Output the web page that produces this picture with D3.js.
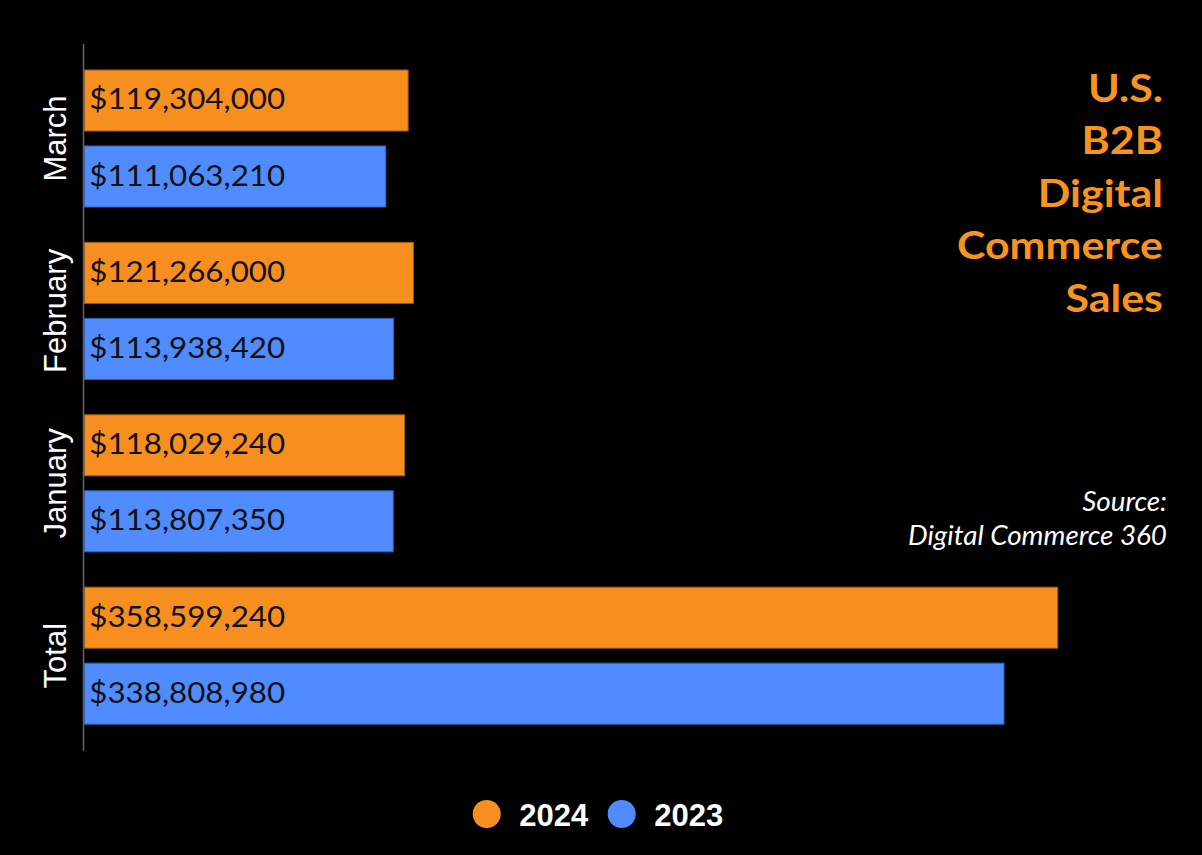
<!DOCTYPE html>
<html>
<head>
<meta charset="utf-8">
<script src="https://cdn.jsdelivr.net/npm/d3@7"></script>
<style>
  html, body { margin: 0; padding: 0; background: #000; }
  svg { display: block; }
</style>
</head>
<body>
<svg id="chart" width="1202" height="855"></svg>
<script>
const categories = ["March", "February", "January", "Total"];
const seriesNames = ["2024", "2023"];
const values2024 = [119304000, 121266000, 118029240, 358599240];
const values2023 = [111063210, 113938420, 113807350, 338808980];
const seriesColors = ["#F68F20", "#508CFF"];
const seriesStrokes = ["#9a5a14", "#2f5fb5"];
const titleLines = ["U.S.", "B2B", "Digital", "Commerce", "Sales"];
const sourceLines = ["Source:", "Digital Commerce 360"];

const svg = d3.select("#chart");
svg.append("rect").attr("width", 1202).attr("height", 855).attr("fill", "#000");

const x = d3.scaleLinear()
  .domain([0, d3.max(values2024.concat(values2023))])
  .range([84.3, 1057.7]);

const y = d3.scaleBand()
  .domain(categories)
  .range([52.3, 741.9])
  .paddingInner(0.205)
  .paddingOuter(0.1025);

const ySub = d3.scaleBand()
  .domain(seriesNames)
  .range([0, y.bandwidth()])
  .paddingInner(0.197);

const fmt = d3.format("$,");

const rows = categories.map((c, i) => ({
  cat: c,
  vals: [
    { s: "2024", v: values2024[i], k: 0 },
    { s: "2023", v: values2023[i], k: 1 }
  ]
}));

const g = svg.append("g");
const groups = g.selectAll("g.grp").data(rows).join("g")
  .attr("class", "grp")
  .attr("transform", d => `translate(0,${y(d.cat)})`);

groups.selectAll("rect").data(d => d.vals).join("rect")
  .attr("x", x(0))
  .attr("y", d => ySub(d.s))
  .attr("width", d => x(d.v) - x(0))
  .attr("height", ySub.bandwidth())
  .attr("fill", d => seriesColors[d.k])
  .attr("stroke", d => seriesStrokes[d.k])
  .attr("stroke-width", 1);

groups.selectAll("text.val").data(d => d.vals).join("text")
  .attr("class", "val")
  .attr("transform", d => `translate(${x(0) + 5},${ySub(d.s) + ySub.bandwidth() / 2 + 9}) scale(1.08,1)`)
  .attr("font-family", "Lato, sans-serif")
  .attr("font-size", 29)
  .attr("fill", "#111")
  .text(d => fmt(d.v));

// y axis line
g.append("line")
  .attr("x1", 83.5).attr("x2", 83.5)
  .attr("y1", 44).attr("y2", 751)
  .attr("stroke", "#666").attr("stroke-width", 1.5);

// category labels
g.selectAll("text.cat").data(categories).join("text")
  .attr("class", "cat")
  .attr("transform", d => `translate(65.5,${y(d) + y.bandwidth() / 2}) rotate(-90)`)
  .attr("text-anchor", "middle")
  .attr("font-family", "'Liberation Sans', Arial, sans-serif")
  .attr("font-size", 31)
  .attr("fill", "#fff")
  .text(d => d);

// title
svg.append("g").selectAll("text").data(titleLines).join("text")
  .attr("transform", (d, i) => `translate(1163,${101.7 + i * 52.5}) scale(1.13,1)`)
  .attr("text-anchor", "end")
  .attr("font-family", "Lato, sans-serif")
  .attr("font-weight", "bold")
  .attr("font-size", 38)
  .attr("fill", "#F7931E")
  .text(d => d);

// source
svg.append("g").selectAll("text").data(sourceLines).join("text")
  .attr("transform", (d, i) => `translate(1167,${510.7 + i * 34.3}) scale(1.05,1)`)
  .attr("text-anchor", "end")
  .attr("font-family", "Lato, sans-serif")
  .attr("font-style", "italic")
  .attr("font-size", 26.5)
  .attr("fill", "#fff")
  .text(d => d);

// legend
const legendX = [486.7, 621.7];
const leg = svg.append("g").selectAll("g").data(seriesNames).join("g")
  .attr("transform", (d, i) => `translate(${legendX[i]},814)`);
leg.append("circle").attr("r", 14).attr("fill", (d, i) => seriesColors[i]);
leg.append("text")
  .attr("x", 32.5)
  .attr("y", 11.7)
  .attr("font-family", "'Liberation Sans', Arial, sans-serif")
  .attr("font-weight", "bold")
  .attr("font-size", 31)
  .attr("fill", "#fff")
  .text(d => d);
</script>
</body>
</html>
